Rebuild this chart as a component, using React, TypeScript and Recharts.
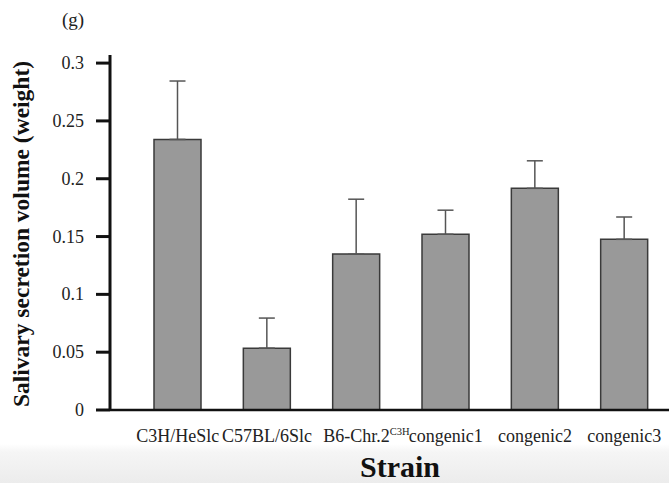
import React from 'react'
import { BarChart, Bar, XAxis, YAxis, ErrorBar } from 'recharts'

const strains = ['C3H/HeSlc', 'C57BL/6Slc', 'B6-Chr.2', 'congenic1', 'congenic2', 'congenic3']
const means = [0.234, 0.0535, 0.1348, 0.152, 0.1917, 0.1476]
const upperErr = [0.0505, 0.026, 0.0475, 0.0208, 0.0238, 0.0193]
const yTicks = [0, 0.05, 0.1, 0.15, 0.2, 0.25, 0.3]

const data = strains.map((s, i) => ({
  strain: s,
  volume: means[i],
  err: [0, upperErr[i]],
}))

const SERIF = '"Liberation Serif", "DejaVu Serif", serif'

function StrainTick({ x, y, payload }: any) {
  const v = payload.value as string
  if (v === 'B6-Chr.2') {
    return (
      <text x={x + 10} y={y + 24} textAnchor="middle" fontFamily={SERIF} fontSize={18} fill="#222">
        {v}
        <tspan fontSize={10.5} dy={-7}>C3H</tspan>
      </text>
    )
  }
  return (
    <text x={x} y={y + 24} textAnchor="middle" fontFamily={SERIF} fontSize={18} fill="#222">
      {v}
    </text>
  )
}

function ValueTick({ x, y, payload }: any) {
  return (
    <text x={x} y={y} dy={6} textAnchor="end" fontFamily={SERIF} fontSize={18} fill="#222">
      {String(payload.value)}
    </text>
  )
}

function YLabel({ viewBox }: any) {
  const cx = 21
  const cy = 234
  return (
    <text
      x={cx}
      y={cy}
      transform={`rotate(-90, ${cx}, ${cy})`}
      textAnchor="middle"
      dominantBaseline="central"
      fontFamily={SERIF}
      fontWeight="bold"
      fontSize={23.5}
      fill="#111"
    >
      Salivary secretion volume (weight)
    </text>
  )
}

function XLabel() {
  return (
    <text x={400} y={477} textAnchor="middle" fontFamily={SERIF} fontWeight="bold" fontSize={30} fill="#111">
      Strain
    </text>
  )
}

export default function App() {
  return (
    <div style={{ position: 'absolute', left: 0, top: 0, width: 669, height: 483, background: 'linear-gradient(to bottom, #ffffff 0px, #ffffff 444px, #f5f5f5 452px, #ececec 483px)' }}>
      <div style={{ position: 'absolute', left: 62, top: 9, fontFamily: SERIF, fontSize: 19, color: '#222' }}>(g)</div>
      <BarChart
        width={669}
        height={483}
        data={data}
        margin={{ top: 55, right: 0, bottom: 0, left: 0 }}
        barSize={47}
        style={{ position: 'absolute', left: 0, top: 0 }}
      >
        <XAxis
          dataKey="strain"
          height={73}
          padding={{ left: 23, right: 0 }}
          tickLine={false}
          axisLine={{ stroke: '#111', strokeWidth: 2.5 }}
          tick={<StrainTick />}
          interval={0}
          label={<XLabel />}
        />
        <YAxis
          width={110}
          domain={[0, 0.307]}
          ticks={yTicks}
          allowDataOverflow
          tickSize={14}
          tickMargin={12}
          tickLine={{ stroke: '#111', strokeWidth: 3 }}
          axisLine={{ stroke: '#111', strokeWidth: 3 }}
          tick={<ValueTick />}
          label={<YLabel />}
        />
        <Bar dataKey="volume" fill="#999999" stroke="#3a3a3a" strokeWidth={1.5} isAnimationActive={false}>
          <ErrorBar dataKey="err" width={8} stroke="#555" strokeWidth={1.5} direction="y" />
        </Bar>
      </BarChart>
    </div>
  )
}
